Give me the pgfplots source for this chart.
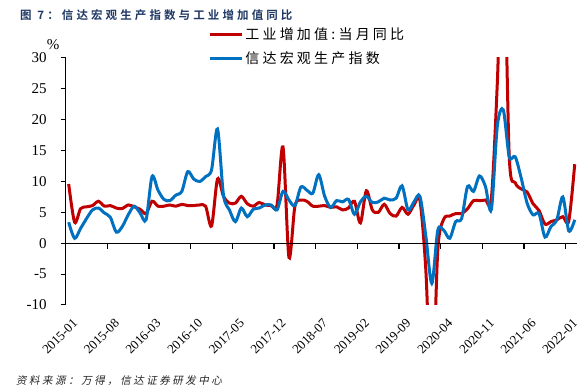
\documentclass[border=0pt]{standalone}
\usepackage{fontspec}
\usepackage{pgfplots}
\usepackage{pgfplotstable}
\pgfplotsset{compat=1.18}
\setmainfont{Liberation Serif}
\newfontfamily\titlefont{Noto Sans CJK SC}[BoldFont={Noto Sans CJK SC Bold},LetterSpace=27]
\newfontfamily\legfont{Noto Sans CJK SC}[LetterSpace=23]
\newfontfamily\srcfont{Noto Sans CJK SC}[FakeSlant=0.2,LetterSpace=24]
\definecolor{ipred}{HTML}{C00000}
\definecolor{idxblue}{HTML}{0070C0}
\definecolor{titlecol}{HTML}{203864}

\pgfplotstableread{
x ip idx
0.5 9.6 3.4
1.5 3.4 0.8
2.5 5.6 2.4
3.5 5.9 4.0
4.5 6.1 5.4
5.5 6.8 5.7
6.5 6.0 4.9
7.5 6.1 4.2
8.5 5.7 1.8
9.5 5.6 2.7
10.5 6.2 4.6
11.5 5.9 6.0
12.5 5.5 4.9
13.5 4.8 3.8
14.5 6.8 10.8
15.5 6.0 8.6
16.5 6.0 7.1
17.5 6.2 6.9
18.5 6.0 7.8
19.5 6.3 8.4
20.5 6.1 11.6
21.5 6.1 10.4
22.5 6.2 10.0
23.5 6.0 10.8
24.5 2.8 11.9
25.5 10.4 18.5
26.5 7.6 7.8
27.5 6.5 5.4
28.5 6.5 3.5
29.5 7.6 5.7
30.5 6.4 4.3
31.5 6.0 5.5
32.5 6.6 5.7
33.5 6.2 6.2
34.5 6.1 6.2
35.5 6.2 5.4
36.5 15.6 8.4
37.5 -2.3 7.0
38.5 6.0 6.1
39.5 7.0 9.1
40.5 6.8 8.6
41.5 6.0 8.1
42.5 6.0 11.1
43.5 6.1 7.6
44.5 5.8 5.8
45.5 5.9 6.9
46.5 5.4 6.7
47.5 5.7 7.1
48.5 6.8 4.7
49.5 3.3 6.7
50.5 8.5 7.6
51.5 5.4 6.6
52.5 5.0 6.7
53.5 6.3 7.3
54.5 4.8 7.0
55.5 4.4 7.3
56.5 5.8 9.3
57.5 4.7 5.4
58.5 6.2 6.7
59.5 6.9 7.6
60.5 -4.5 1.1
61.5 -25.9 -6.5
62.5 -1.1 2.1
63.5 3.9 2.1
64.5 4.4 0.8
65.5 4.8 3.5
66.5 4.8 4.0
67.5 5.6 9.2
68.5 6.9 8.4
69.5 6.9 10.9
70.5 7.0 9.2
71.5 7.3 5.5
72.5 26.0 19.0
73.5 52.0 21.6
74.5 14.1 14.0
75.5 9.8 14.0
76.5 8.8 10.6
77.5 8.3 6.5
78.5 6.4 4.6
79.5 5.3 4.8
80.5 3.1 1.0
81.5 3.5 2.7
82.5 3.8 3.8
83.5 4.3 7.5
84.5 3.6 2.0
85.5 12.8 3.8
}\datatable

\begin{document}
\begin{tikzpicture}
\useasboundingbox (0,0) rectangle (577bp,391bp);
\begin{axis}[
  at={(65.7bp,86bp)}, anchor=south west,
  scale only axis, width=511.4bp, height=247bp,
  xmin=0, xmax=85.9, ymin=-10, ymax=30,
  axis y line=left, axis x line=bottom,
  x axis line style={draw=none},
  y axis line style={line width=1bp,-},
  xtick={0,7,...,84},
  xticklabels={2015-01,2015-08,2016-03,2016-10,2017-05,2017-12,2018-07,2019-02,2019-09,2020-04,2020-11,2021-06,2022-01},
  xtick style={draw=none},
  ytick={-10,-5,...,30},
  ytick style={line width=1bp,black},
  tick align=outside, major tick length=5bp,
  /pgf/number format/assume math mode=true,
  yticklabel style={font=\fontsize{15bp}{17bp}\selectfont, anchor=east, inner sep=0pt, xshift=-14bp},
  xticklabel style={font=\fontsize{13bp}{15bp}\selectfont, rotate=45, anchor=north east, inner sep=0pt, xshift=-1bp, yshift=-10bp},
  legend style={draw=none, fill=none, at={(rel axis cs:0.2785,1.13)}, anchor=north west,
    inner sep=0pt, font=\legfont\fontsize{14bp}{16bp}\selectfont, row sep=6bp,
    /tikz/every even column/.append style={column sep=0bp}},
  legend cell align=left,
  legend image code/.code={\draw[#1] (0bp,0bp) -- (32bp,0bp);},
]
\addplot[ipred, line width=3bp, smooth] table[x=x, y=ip] {\datatable};
\addlegendentry{工业增加值:当月同比}
\addplot[idxblue, line width=3bp, smooth] table[x=x, y=idx] {\datatable};
\addlegendentry{信达宏观生产指数}
\draw[black, line width=1bp] (axis cs:0,0) -- (axis cs:85.9,0);
\pgfplotsinvokeforeach{0,7,14,21,28,35,42,49,56,63,70,77,84}{\draw[black, line width=1.3bp] (axis cs:#1,0) -- (axis cs:#1,-1.0);}
\end{axis}
\node[font=\fontsize{15bp}{17bp}\selectfont, inner sep=0pt] at (53bp,346bp) {\%};
\node[anchor=west, inner sep=0pt, text=titlecol] at (20bp,376bp) {\titlefont\bfseries\fontsize{11.5bp}{13bp}\selectfont 图 7：信达宏观生产指数与工业增加值同比};
\node[anchor=west, inner sep=0pt, text=black!85] at (16bp,10bp) {\srcfont\fontsize{10.5bp}{12bp}\selectfont 资料来源：万得，信达证券研发中心};
\end{tikzpicture}
\end{document}
